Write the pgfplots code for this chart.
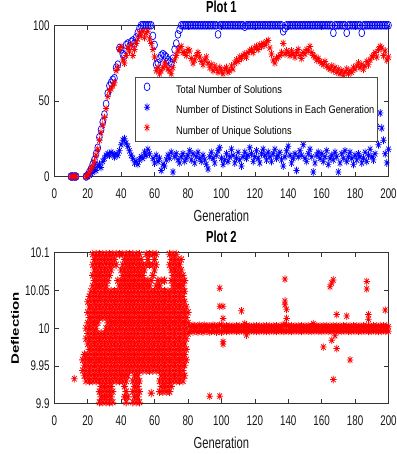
\documentclass[border=0pt]{standalone}
\usepackage{fontspec}
\setmainfont[FakeStretch=0.7]{Liberation Sans}
\newfontfamily\legfont[FakeStretch=0.84]{Liberation Sans}
\newfontfamily\ylabfont{Liberation Sans}
\usepackage{graphicx}
\usepackage{pgfplots}
\usepackage{pgfplotstable}
\pgfplotsset{compat=1.18}

\pgfdeclareplotmark{mstar}{%
  \pgfpathmoveto{\pgfqpoint{-\pgfplotmarksize}{0pt}}%
  \pgfpathlineto{\pgfqpoint{\pgfplotmarksize}{0pt}}%
  \pgfpathmoveto{\pgfqpoint{0pt}{-\pgfplotmarksize}}%
  \pgfpathlineto{\pgfqpoint{0pt}{\pgfplotmarksize}}%
  \pgfpathmoveto{\pgfqpoint{-0.7071\pgfplotmarksize}{-0.7071\pgfplotmarksize}}%
  \pgfpathlineto{\pgfqpoint{0.7071\pgfplotmarksize}{0.7071\pgfplotmarksize}}%
  \pgfpathmoveto{\pgfqpoint{-0.7071\pgfplotmarksize}{0.7071\pgfplotmarksize}}%
  \pgfpathlineto{\pgfqpoint{0.7071\pgfplotmarksize}{-0.7071\pgfplotmarksize}}%
  \pgfusepathqstroke}

\pgfplotsset{matstyle/.style={
  scale only axis, width=334.2pt, height=151.2pt, anchor=south west,
  xmin=0, xmax=200, xtick={0,20,...,200},
  tick align=inside, major tick length=4.5pt,
  axis line style={black!80, line width=0.6pt},
  every tick/.style={black!80, line width=0.6pt},
  tick label style={font=\fontsize{14}{14}\selectfont, text=black!90},
  /pgf/number format/assume math mode=true,
  xticklabel style={anchor=north, inner sep=0pt, yshift=-11.8pt},
  yticklabel style={anchor=east, inner sep=0pt, xshift=-4.5pt},
  xlabel style={at={(axis description cs:0.5,0)}, anchor=base, yshift=-45.3pt, font=\fontsize{16}{16}\selectfont, text=black!90, inner sep=0pt},
  title style={at={(axis description cs:0.5,1)}, anchor=base, font=\fontsize{16}{16}\selectfont\bfseries, inner sep=0pt},
  clip=true,
}}

\begin{document}
\pgfplotstableread{
g tot dis uni
10 0 0 0
11 0 0 0
12 0 0 0
13 0 0 0
19 0 0 0
20 1 0 1
21 3 1 3
22 5 2 5
23 8 3 7
24 11 5 10
25 15 4 14
26 19 7 18
27 26 8 24
28 31 6 29
29 36 10 34
30 41 12 39
31 48 14 45
32 55 15 53
33 60 14 57
34 62 16 58
35 64 15 60
36 65 13 62
37 72 15 70
38 74 14 72
39 85 17 84
40 84 21 86
41 81 24 77
42 80 25 75
43 87 22 80
44 88 20 85
45 86 17 83
46 89 14 87
47 90 12 80
48 88 9 84
49 92 10 88
50 95 8 91
51 98 11 95
52 100 13 93
53 100 12 96
54 100 16 92
55 100 14 95
56 100 18 96
57 100 15 91
58 100 26 88
59 93 12 84
60 87 9 79
61 74 14 70
62 75 10 72
63 78 12 68
64 80 4 70
65 81 8 72
66 80 7 75
67 79 11 73
68 77 14 71
69 76 12 70
70 75 16 68
71 78 3 72
72 84 13 77
73 88 15 80
74 94 11 83
75 97 9 85
76 100 13 86
77 100 15 82
78 100 10 82
79 100 12 80
80 100 14 84
81 100 17 83
82 100 11 78
83 100 15 75
84 100 9 77
85 100 13 80
86 100 16 82
87 100 12 79
88 100 10 76
89 100 14 74
90 100 11 77
91 100 8 79
92 100 5 75
93 100 13 72
94 100 16 74
95 100 12 70
96 100 9 73
97 100 14 71
98 94 17 69
99 100 19 72
100 100 12 70
101 100 8 68
102 100 11 71
103 100 15 72
104 100 10 69
105 100 13 70
106 100 18 73
107 100 14 71
108 100 9 75
109 100 12 77
110 100 16 76
111 100 11 79
112 100 7 78
113 100 13 80
114 99 16 81
115 100 12 79
116 100 14 82
117 100 19 83
118 100 15 84
119 100 10 82
120 100 13 85
121 100 17 86
122 100 12 84
123 100 9 87
124 100 15 86
125 100 18 88
126 100 14 87
127 100 11 89
128 100 16 90
129 100 13 85
130 100 10 81
131 100 15 77
132 100 18 75
133 100 12 78
134 100 14 79
135 100 16 80
136 100 11 82
137 96 7 88
138 98 13 81
139 100 17 83
140 100 20 82
141 100 14 80
142 100 9 83
143 100 12 81
144 100 15 79
145 100 4 82
146 100 13 84
147 100 17 80
148 100 14 78
149 100 21 82
150 100 12 81
151 100 10 84
152 100 15 83
153 100 18 86
154 100 13 82
155 100 3 80
156 100 9 79
157 100 14 77
158 100 16 78
159 100 12 76
160 100 15 75
161 100 10 74
162 100 13 76
163 100 17 73
164 100 8 72
165 100 12 71
166 100 14 73
167 95 11 70
168 100 16 72
169 100 13 69
170 100 3 71
171 100 9 68
172 100 15 70
173 100 12 67
174 100 17 69
175 95 10 71
176 100 13 68
177 100 16 70
178 100 12 69
179 100 8 72
180 100 14 71
181 100 11 73
182 100 15 75
183 100 13 72
184 95 9 74
185 100 12 71
186 100 16 73
187 100 10 76
188 100 14 74
189 100 18 77
190 100 13 79
191 100 11 80
192 100 15 82
193 100 33 79
194 100 21 84
195 100 42 86
196 100 32 85
197 100 24 80
198 100 15 83
199 100 9 77
200 100 18 79
}\pone

\pgfplotstableread{
g j0 j1 j2 j3 j4 j5 j6 j7 j8 j9 j10 j11 j12 j13 j14
17 nan nan nan 9.944 9.958 nan nan nan nan nan nan nan nan nan nan
18 nan nan 9.937 9.951 9.965 nan nan nan nan nan nan nan nan nan nan
19 nan nan 9.930 9.944 9.958 nan 9.986 10.000 nan nan nan nan nan nan nan
20 nan nan 9.937 9.951 9.965 9.979 9.993 10.007 10.021 10.035 nan nan nan nan nan
21 nan nan 9.930 9.944 9.958 9.972 9.986 10.000 10.014 10.028 10.042 nan nan nan nan
22 nan nan 9.937 9.951 9.965 9.979 9.993 10.007 10.021 10.035 10.049 nan nan nan nan
23 nan nan 9.930 9.944 9.958 9.972 9.986 10.000 10.014 10.028 10.042 10.056 10.070 10.084 10.098
24 nan nan 9.937 9.951 9.965 9.979 9.993 10.007 10.021 10.035 10.049 10.063 10.077 10.091 10.102
25 nan nan 9.930 9.944 9.958 9.972 9.986 10.000 10.014 10.028 10.042 10.056 10.070 10.084 10.098
26 nan nan 9.937 9.951 9.965 9.979 9.993 10.007 10.021 10.035 10.049 10.063 10.077 10.091 10.102
27 9.902 9.916 9.930 9.944 9.958 9.972 9.986 nan 10.014 10.028 10.042 10.056 10.070 10.084 10.098
28 9.909 9.923 9.937 9.951 9.965 9.979 9.993 nan 10.021 10.035 10.049 10.063 10.077 10.091 10.102
29 9.902 9.916 9.930 9.944 9.958 9.972 9.986 nan 10.014 10.028 10.042 10.056 10.070 10.084 10.098
30 9.909 9.923 9.937 9.951 9.965 9.979 9.993 nan 10.021 10.035 10.049 10.063 10.077 10.091 10.102
31 9.902 9.916 9.930 9.944 9.958 9.972 9.986 10.000 10.014 10.028 10.042 10.056 10.070 10.084 10.098
32 9.909 9.923 9.937 9.951 9.965 9.979 9.993 10.007 10.021 10.035 10.049 10.063 10.077 10.091 10.102
33 9.902 9.916 9.930 9.944 9.958 9.972 9.986 10.000 10.014 10.028 10.042 nan 10.070 10.084 10.098
34 9.909 9.923 9.937 9.951 9.965 9.979 9.993 10.007 10.021 10.035 10.049 nan 10.077 10.091 10.102
35 9.902 9.916 9.930 9.944 9.958 9.972 9.986 10.000 10.014 10.028 10.042 nan nan 10.084 10.098
36 nan nan 9.937 9.951 9.965 9.979 9.993 10.007 10.021 10.035 10.049 nan nan 10.091 10.102
37 nan nan 9.930 9.944 9.958 9.972 9.986 10.000 10.014 10.028 10.042 nan nan 10.084 10.098
38 nan nan 9.937 9.951 9.965 9.979 9.993 10.007 10.021 10.035 10.049 10.063 nan nan 10.102
39 nan nan 9.930 9.944 9.958 9.972 9.986 10.000 10.014 10.028 10.042 10.056 nan nan 10.098
40 nan nan 9.937 9.951 9.965 9.979 9.993 10.007 10.021 10.035 10.049 10.063 10.077 nan 10.102
41 nan nan 9.930 9.944 9.958 9.972 9.986 10.000 10.014 10.028 10.042 10.056 10.070 10.084 10.098
42 9.909 9.923 9.937 9.951 9.965 9.979 9.993 10.007 10.021 10.035 10.049 10.063 10.077 10.091 10.102
43 9.902 9.916 9.930 9.944 9.958 9.972 9.986 10.000 10.014 10.028 10.042 10.056 10.070 10.084 10.098
44 9.909 nan 9.937 9.951 9.965 9.979 9.993 10.007 10.021 10.035 10.049 10.063 10.077 10.091 10.102
45 nan nan nan 9.944 9.958 9.972 9.986 10.000 10.014 10.028 10.042 10.056 10.070 10.084 10.098
46 nan nan nan 9.951 9.965 9.979 9.993 10.007 10.021 10.035 10.049 10.063 10.077 10.091 10.102
47 9.902 9.916 9.930 9.944 9.958 9.972 9.986 10.000 10.014 10.028 10.042 10.056 10.070 10.084 10.098
48 9.909 9.923 9.937 9.951 9.965 9.979 9.993 10.007 10.021 10.035 10.049 10.063 10.077 10.091 10.102
49 9.902 9.916 9.930 9.944 9.958 9.972 9.986 10.000 10.014 10.028 10.042 10.056 10.070 10.084 10.098
50 9.909 9.923 9.937 9.951 9.965 9.979 9.993 10.007 10.021 10.035 10.049 10.063 10.077 10.091 10.102
51 9.902 9.916 9.930 9.944 9.958 9.972 9.986 10.000 10.014 10.028 10.042 10.056 10.070 10.084 10.098
52 nan nan nan 9.951 9.965 9.979 9.993 10.007 10.021 10.035 10.049 10.063 10.077 10.091 10.102
53 nan nan nan 9.944 9.958 9.972 9.986 10.000 10.014 10.028 10.042 10.056 10.070 10.084 nan
54 nan nan nan 9.951 9.965 9.979 9.993 10.007 10.021 10.035 10.049 10.063 10.077 nan 10.102
55 nan nan nan 9.944 9.958 9.972 9.986 10.000 10.014 10.028 10.042 10.056 nan 10.084 10.098
56 nan nan nan 9.951 9.965 9.979 9.993 10.007 10.021 10.035 10.049 10.063 nan 10.091 10.102
57 nan nan nan 9.944 9.958 9.972 9.986 10.000 10.014 10.028 10.042 10.056 nan 10.084 10.098
58 nan 9.914 nan 9.951 9.965 9.979 9.993 10.007 10.021 10.035 10.049 10.063 nan nan 10.102
59 nan nan nan 9.944 9.958 9.972 9.986 10.000 10.014 10.028 10.042 nan 10.070 10.084 10.098
60 nan nan nan 9.951 9.965 9.979 9.993 10.007 10.021 10.035 10.049 nan 10.077 10.091 10.102
61 nan nan nan 9.944 9.958 9.972 9.986 10.000 10.014 10.028 10.042 10.056 nan 10.084 10.098
62 nan nan nan 9.951 9.965 9.979 9.993 10.007 10.021 10.035 10.049 10.063 nan nan 10.102
63 nan 9.916 9.930 9.944 9.958 9.972 9.986 10.000 10.014 10.028 10.042 10.056 nan nan nan
64 nan 9.923 9.937 9.951 9.965 9.979 9.993 10.007 10.021 10.035 10.049 10.063 nan nan nan
65 nan 9.916 9.930 9.944 9.958 9.972 9.986 10.000 10.014 10.028 10.042 nan nan nan nan
66 nan 9.923 9.937 9.951 9.965 9.979 9.993 10.007 10.021 10.035 10.049 10.063 nan nan nan
67 nan 9.916 9.930 9.944 9.958 9.972 9.986 10.000 10.014 10.028 10.042 nan nan nan nan
68 nan 9.923 9.937 9.951 9.965 9.979 9.993 10.007 10.021 10.035 10.049 nan nan nan nan
69 nan 9.916 9.930 9.944 9.958 9.972 9.986 10.000 10.014 10.028 10.042 nan nan 10.084 10.098
70 nan 9.923 9.937 9.951 9.965 9.979 9.993 10.007 10.021 10.035 10.049 10.063 10.077 10.091 10.102
71 nan nan 9.930 9.944 9.958 9.972 9.986 10.000 10.014 10.028 10.042 10.056 10.070 10.084 10.098
72 nan nan 9.937 9.951 9.965 9.979 9.993 10.007 10.021 10.035 10.049 10.063 10.077 10.091 10.102
73 nan nan 9.930 9.944 9.958 9.972 9.986 10.000 10.014 10.028 10.042 10.056 10.070 10.084 10.098
74 nan nan 9.937 9.951 9.965 9.979 9.993 10.007 10.021 10.035 10.049 10.063 10.077 10.091 nan
75 nan nan 9.930 9.944 9.958 9.972 9.986 10.000 10.014 10.028 10.042 10.056 10.070 10.084 nan
76 nan nan 9.937 9.951 9.965 9.979 9.993 10.007 10.021 10.035 10.049 10.063 10.077 10.091 nan
77 nan nan 9.930 9.944 9.958 9.972 9.986 10.000 10.014 10.028 10.042 10.056 10.070 nan nan
78 nan nan 9.937 9.951 9.965 9.979 9.993 10.007 10.021 10.035 10.049 10.063 nan nan nan
79 nan nan nan nan 9.958 9.972 9.986 10.000 10.014 10.028 nan nan nan nan nan
80 nan nan nan nan nan nan 9.993 10.007 10.021 nan nan nan nan nan nan
}\blob

\pgfplotstableread{
g v w
81 10.003 9.996
82 10.002 9.997
83 10.004 9.995
84 10.003 9.997
85 10.002 9.996
86 10.003 9.995
87 10.004 9.997
88 10.002 9.996
89 10.003 9.995
90 10.004 9.997
91 10.002 9.996
92 10.003 9.997
93 10.003 9.995
94 10.002 9.996
95 10.004 9.997
96 10.003 9.996
97 10.002 9.995
98 10.003 9.997
99 10.004 9.996
100 10.004 9.995
101 10.003 9.996
102 10.002 9.997
103 10.003 9.996
104 10.002 9.997
105 10.003 9.996
106 10.002 9.997
107 10.003 9.996
108 10.002 9.997
109 10.003 9.996
110 10.002 9.997
111 10.003 9.996
112 10.002 9.997
113 10.003 9.996
114 10.002 9.997
115 10.003 9.996
116 10.002 9.997
117 10.003 9.996
118 10.002 9.997
119 10.003 9.996
120 10.002 9.997
121 10.003 9.996
122 10.002 9.997
123 10.003 9.996
124 10.002 9.997
125 10.003 9.996
126 10.002 9.997
127 10.003 9.996
128 10.002 9.997
129 10.003 9.996
130 10.002 9.997
131 10.003 9.996
132 10.002 9.997
133 10.003 9.996
134 10.002 9.997
135 10.003 9.996
136 10.002 9.997
137 10.004 9.996
138 10.005 9.996
139 10.004 9.997
140 10.003 9.996
141 10.002 9.997
142 10.003 9.996
143 10.002 9.997
144 10.003 9.996
145 10.002 9.997
146 10.003 9.996
147 10.002 9.997
148 10.003 9.996
149 10.002 9.997
150 10.003 9.996
151 10.002 9.997
152 10.003 9.996
153 10.002 9.997
154 10.003 9.996
155 10.003 9.997
156 10.002 9.996
157 10.003 9.997
158 10.002 9.996
159 10.003 9.997
160 10.002 9.996
161 10.003 9.997
162 10.002 9.996
163 10.003 9.997
164 10.002 9.996
165 10.003 9.997
166 10.002 9.996
167 10.003 9.997
168 10.002 9.996
169 10.003 9.997
170 10.002 9.996
171 10.003 9.997
172 10.002 9.996
173 10.003 9.997
174 10.002 9.996
175 10.003 9.997
176 10.002 9.996
177 10.003 9.997
178 10.002 9.996
179 10.003 9.997
180 10.002 9.996
181 10.003 9.997
182 10.002 9.996
183 10.003 9.997
184 10.002 9.996
185 10.003 9.997
186 10.002 9.996
187 10.003 9.997
188 10.002 9.996
189 10.003 9.997
190 10.002 9.996
191 10.003 9.997
192 10.002 9.996
193 10.003 9.997
194 10.002 9.996
195 10.003 9.997
196 10.002 9.996
197 10.003 9.997
198 10.002 9.996
199 10.003 9.997
200 10.002 9.996
}\band

\pgfplotstableread{
g v
12 9.933
93 9.910
99 9.910
99 10.053
99 10.029
101 10.029
101 10.013
101 9.982
101 9.979
112 10.023
114 10.006
115 9.991
138 10.065
138 10.036
138 10.031
139 10.025
139 10.013
155 10.006
161 9.975
165 10.055
166 10.060
167 10.064
166 9.984
168 9.990
169 10.018
169 9.973
175 10.016
177 9.958
167 9.932
187 10.062
187 10.052
188 10.018
188 10.012
198 10.024
}\outl

\begin{tikzpicture}
\useasboundingbox (0,0) rectangle (396pt,454pt);
\begin{axis}[matstyle, at={(54.3pt,277.5pt)},
  ymin=0, ymax=100, ytick={0,50,100},
  title={Plot 1}, title style={yshift=7pt},
  xlabel={Generation},
  legend style={at={(axis description cs:0.241,0.657)}, anchor=north west,
    draw=black!70, line width=0.5pt, fill=white,
    font=\legfont\fontsize{11}{11}\selectfont,
    inner xsep=3pt, inner ysep=5.5pt, row sep=8pt, column sep=12pt,
    nodes={inner sep=0pt, text height=8pt, text depth=2pt},
    cells={anchor=west}},
  legend image code/.code={\path[draw=none] (0pt,0pt) rectangle (26pt,7pt); \draw[mark repeat=2, mark phase=2, #1] plot coordinates {(0pt,3.5pt) (9pt,3.5pt) (18pt,3.5pt)};},
]
\addplot[only marks, mark=o, color=blue, line width=0.7pt, mark size=3.9pt, mark options={xscale=0.75}] table[x=g,y=tot]{\pone};
\addplot[only marks, mark=mstar, color=blue, line width=0.7pt, mark size=3.9pt, mark options={xscale=0.8}] table[x=g,y=dis]{\pone};
\addplot[only marks, mark=mstar, color=red, line width=0.7pt, mark size=3.9pt, mark options={xscale=0.8}] table[x=g,y=uni]{\pone};
\legend{Total Number of Solutions, Number of Distinct Solutions in Each Generation, Number of Unique Solutions}
\end{axis}

\begin{axis}[matstyle, at={(54.3pt,50.3pt)}, height=151pt,
  ymin=9.9, ymax=10.1, ytick={9.9,9.95,10,10.05,10.1},
  title={Plot 2}, title style={yshift=4.4pt},
  xlabel={Generation},
  ylabel={\scalebox{1}[0.72]{\ylabfont\bfseries\fontsize{15}{15}\selectfont Deflection}},
  ylabel style={at={([xshift=-39.3pt]axis description cs:0,0.5)}, anchor=center, inner sep=0pt},
]
\pgfplotsinvokeforeach{0,...,14}{
\addplot[only marks, mark=mstar, color=red, line width=0.85pt, mark size=4.3pt, mark options={xscale=0.85}] table[x=g,y=j#1]{\blob};
}
\addplot[only marks, mark=mstar, color=red, line width=0.75pt, mark size=3.8pt, mark options={xscale=0.85}] table[x=g,y=v]{\band};
\addplot[only marks, mark=mstar, color=red, line width=0.75pt, mark size=3.8pt, mark options={xscale=0.85}] table[x=g,y=w]{\band};
\addplot[only marks, mark=mstar, color=red, line width=0.75pt, mark size=3.8pt, mark options={xscale=0.85}] table[x=g,y=v]{\outl};
\end{axis}
\end{tikzpicture}
\end{document}
